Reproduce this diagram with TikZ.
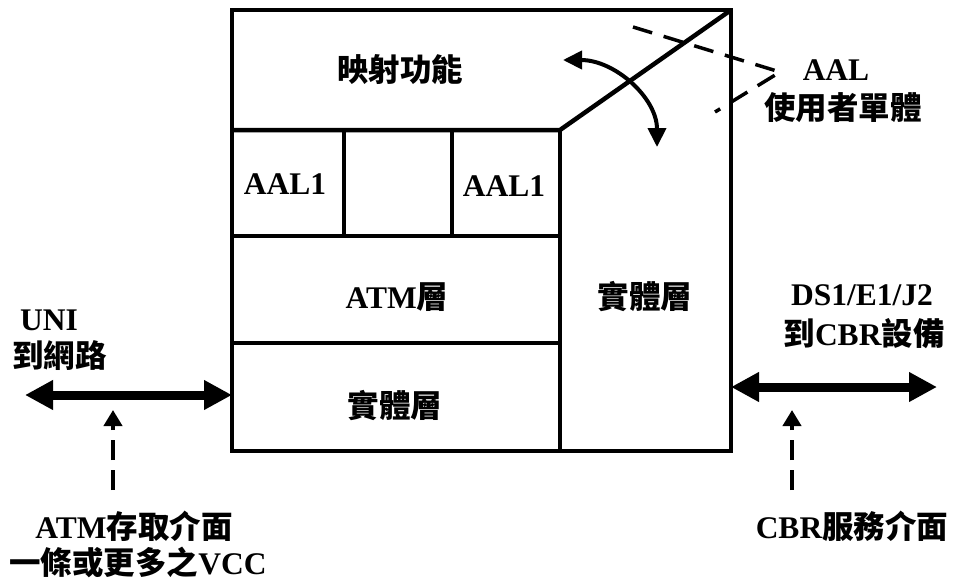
\documentclass[tikz,border=0pt]{standalone}
\usepackage{fontspec}
\setmainfont{Liberation Serif}
\newfontfamily\cjk{Noto Sans CJK TC}
\usetikzlibrary{arrows.meta}
\newcommand\zh[1]{{\cjk\bfseries #1}}
\begin{document}
\begin{tikzpicture}[x=1pt,y=-1pt,
  font=\fontsize{31.5}{36}\selectfont\bfseries,
  boxline/.style={line width=4.5pt, line join=miter},
  bigarrow/.style={line width=9pt, {Triangle[length=28pt,width=28pt]}-{Triangle[length=28pt,width=28pt]}},
  uparrow/.style={line width=4.5pt, dash pattern=on 20pt off 10pt, -{Triangle[length=16pt,width=18pt]}},
  curvarrow/.style={line width=4pt, {Triangle[length=19pt,width=18pt]}-{Triangle[length=19pt,width=18pt]}},
  chevron/.style={line width=3.5pt, dash pattern=on 20pt off 12pt},
  lbl/.style={inner sep=0pt}]
\useasboundingbox (0,0) rectangle (953,579);
% corners
\coordinate (TL) at (232,10);
\coordinate (TR) at (731,10);
\coordinate (BL) at (232,451);
\coordinate (BR) at (731,451);
\coordinate (A) at (232,130);
\coordinate (B) at (560,130);
\coordinate (Bb) at (560,451);
\coordinate (C) at (232,236);
\coordinate (Cr) at (560,236);
\coordinate (D) at (232,343);
\coordinate (Dr) at (560,343);
\coordinate (V1) at (344,130);
\coordinate (V1b) at (344,236);
\coordinate (V2) at (452,130);
\coordinate (V2b) at (452,236);
% box
\draw[boxline] (TL) rectangle (BR);
\draw[boxline] (A) -- (B) -- (TR);
\draw[boxline] (B) -- (Bb);
\draw[boxline] (C) -- (Cr);
\draw[boxline] (D) -- (Dr);
\draw[boxline] (V1) -- (V1b);
\draw[boxline] (V2) -- (V2b);
% texts in box
\node[lbl] (map) at (400,70) {\zh{映射功能}};
\node[lbl] (aal1a) at (285,184) {AAL1};
\node[lbl] (aal1b) at (504,186) {AAL1};
\node[lbl] (atm) at (397,297) {ATM\zh{層}};
\node[lbl] (phy1) at (395,406) {\zh{實體層}};
\node[lbl] (phy2) at (645,297) {\zh{實體層}};
% curved arrow
\coordinate (ca1) at (563,60);
\coordinate (ca2) at (657,147);
\draw[curvarrow] (ca1) .. controls (615,60) and (657,98) .. (ca2);
% dashed chevron
\coordinate (ch1) at (633,27);
\coordinate (ch2) at (780,72);
\coordinate (ch3) at (715,112);
\draw[chevron] (ch1) -- (ch2) -- (ch3);
\node[lbl] (aal) at (836,70) {AAL};
\node[lbl] (user) at (843,108) {\zh{使用者單體}};
% left side
\coordinate (lend) at (25,395);
\coordinate (lbox) at (232,395);
\draw[bigarrow] (lend) -- (lbox);
\coordinate (lup0) at (113,490);
\coordinate (lup1) at (113,410);
\draw[uparrow] (lup0) -- (lup1);
\node[lbl, anchor=west] (uni) at (20,320) {UNI};
\node[lbl, anchor=west] (tonet) at (12,356) {\zh{到網路}};
\node[lbl] (atmacc) at (134,526) {ATM\zh{存取介面}};
\node[lbl] (vcc) at (138,562) {\zh{一條或更多之}VCC};
% right side
\coordinate (rbox) at (731,387);
\coordinate (rend) at (937,387);
\draw[bigarrow] (rbox) -- (rend);
\coordinate (rup0) at (792,490);
\coordinate (rup1) at (792,410);
\draw[uparrow] (rup0) -- (rup1);
\node[lbl] (ds1) at (862,295) {DS1/E1/J2};
\node[lbl] (tocbr) at (864,334) {\zh{到}CBR\zh{設備}};
\node[lbl] (cbrsvc) at (852,526) {CBR\zh{服務介面}};
\end{tikzpicture}
\end{document}
